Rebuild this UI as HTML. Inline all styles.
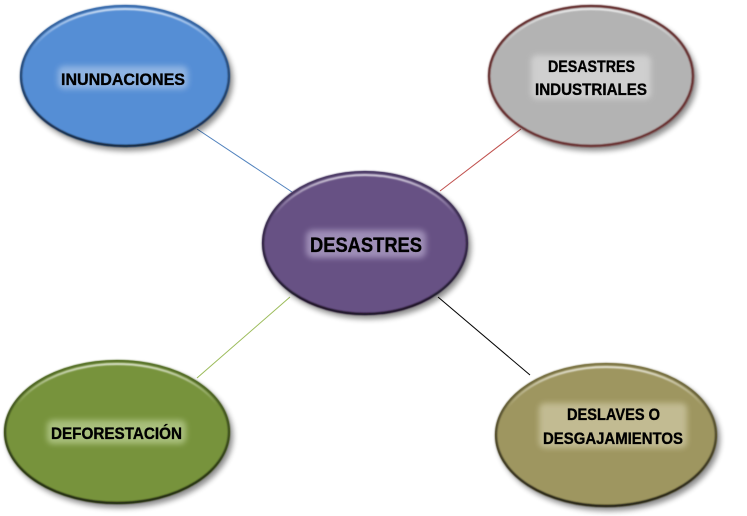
<!DOCTYPE html>
<html>
<head>
<meta charset="utf-8">
<style>
html,body{margin:0;padding:0;background:#fff;}
svg{display:block;}
text{font-family:"Liberation Sans",Arial,sans-serif;font-weight:bold;fill:#000;stroke:#000;stroke-width:0.35px;}
</style>
</head>
<body>
<svg width="747" height="516" viewBox="0 0 747 516" xmlns="http://www.w3.org/2000/svg">
<defs>
  <filter id="sh" x="-20%" y="-20%" width="140%" height="140%">
    <feGaussianBlur stdDeviation="3"/>
  </filter>
  <filter id="gl" x="-20%" y="-60%" width="140%" height="220%">
    <feGaussianBlur stdDeviation="3"/>
  </filter>
  <filter id="eb" x="-10%" y="-10%" width="120%" height="120%">
    <feGaussianBlur stdDeviation="0.8"/>
  </filter>
  <linearGradient id="hl" x1="0" y1="0" x2="0" y2="1">
    <stop offset="0" stop-color="#fff" stop-opacity="0.75"/>
    <stop offset="0.3" stop-color="#fff" stop-opacity="0"/>
  </linearGradient>
  <linearGradient id="dkB" x1="0" y1="0" x2="0" y2="1">
    <stop offset="0" stop-color="#3a6aa8"/><stop offset="1" stop-color="#0d1a2c"/>
  </linearGradient>
  <linearGradient id="dkP" x1="0" y1="0" x2="0" y2="1">
    <stop offset="0" stop-color="#4a3a63"/><stop offset="1" stop-color="#120c1a"/>
  </linearGradient>
  <linearGradient id="dkG" x1="0" y1="0" x2="0" y2="1">
    <stop offset="0" stop-color="#56702a"/><stop offset="1" stop-color="#151b08"/>
  </linearGradient>
  <linearGradient id="dkO" x1="0" y1="0" x2="0" y2="1">
    <stop offset="0" stop-color="#7a7345"/><stop offset="1" stop-color="#14120a"/>
  </linearGradient>
</defs>

<!-- connectors -->
<line x1="197" y1="129" x2="292" y2="192" stroke="#4F81BD" stroke-width="1"/>
<line x1="440" y1="191" x2="521" y2="129" stroke="#C0504D" stroke-width="1"/>
<line x1="197" y1="378" x2="290" y2="297" stroke="#9BBB59" stroke-width="1"/>
<line x1="438" y1="297" x2="530" y2="375" stroke="#000" stroke-width="1"/>

<!-- INUNDACIONES -->
<ellipse cx="128" cy="80" rx="105" ry="71" fill="#000" opacity="0.45" filter="url(#sh)"/>
<ellipse cx="125" cy="76" rx="105" ry="71" fill="#558ED5"/>
<ellipse cx="125" cy="76" rx="104" ry="70" fill="none" stroke="url(#dkB)" stroke-width="2.2" filter="url(#eb)"/>
<ellipse cx="125" cy="76" rx="101" ry="67" fill="none" stroke="url(#hl)" stroke-width="2" filter="url(#eb)"/>
<rect x="58" y="66" width="130" height="23" rx="6" fill="#9DBDE6" opacity="0.8" filter="url(#gl)"/>
<text x="61" y="85" font-size="16.5" textLength="124" lengthAdjust="spacingAndGlyphs">INUNDACIONES</text>

<!-- DESASTRES INDUSTRIALES -->
<ellipse cx="594" cy="80" rx="103" ry="71" fill="#000" opacity="0.45" filter="url(#sh)"/>
<ellipse cx="591" cy="76" rx="103" ry="71" fill="#B3B3B3"/>
<ellipse cx="591" cy="76" rx="102" ry="70" fill="none" stroke="#5e2020" stroke-width="2.2" filter="url(#eb)"/>
<ellipse cx="591" cy="76" rx="99" ry="67" fill="none" stroke="url(#hl)" stroke-width="2" filter="url(#eb)"/>
<rect x="531" y="55" width="120" height="44" rx="6" fill="#D6D6D6" opacity="0.8" filter="url(#gl)"/>
<text x="548" y="72" font-size="16.5" textLength="87" lengthAdjust="spacingAndGlyphs">DESASTRES</text>
<text x="535" y="95" font-size="16.5" textLength="112" lengthAdjust="spacingAndGlyphs">INDUSTRIALES</text>

<!-- DESASTRES center -->
<ellipse cx="368" cy="247" rx="103" ry="72" fill="#000" opacity="0.45" filter="url(#sh)"/>
<ellipse cx="365" cy="243" rx="103" ry="72" fill="#675184"/>
<ellipse cx="365" cy="243" rx="102" ry="71" fill="none" stroke="url(#dkP)" stroke-width="2.2" filter="url(#eb)"/>
<ellipse cx="365" cy="243" rx="99" ry="68" fill="none" stroke="url(#hl)" stroke-width="2" filter="url(#eb)"/>
<rect x="306" y="230" width="120" height="28" rx="7" fill="#A899C0" opacity="0.85" filter="url(#gl)"/>
<text x="310" y="252" font-size="21" textLength="112" lengthAdjust="spacingAndGlyphs">DESASTRES</text>

<!-- DEFORESTACIÓN -->
<ellipse cx="120" cy="436" rx="113" ry="72" fill="#000" opacity="0.45" filter="url(#sh)"/>
<ellipse cx="117" cy="432" rx="113" ry="72" fill="#77933C"/>
<ellipse cx="117" cy="432" rx="112" ry="71" fill="none" stroke="url(#dkG)" stroke-width="2.2" filter="url(#eb)"/>
<ellipse cx="117" cy="432" rx="109" ry="68" fill="none" stroke="url(#hl)" stroke-width="2" filter="url(#eb)"/>
<rect x="47" y="420" width="139" height="24" rx="6" fill="#B5CA8C" opacity="0.8" filter="url(#gl)"/>
<text x="51" y="439" font-size="16.5" textLength="131" lengthAdjust="spacingAndGlyphs">DEFORESTACIÓN</text>

<!-- DESLAVES O DESGAJAMIENTOS -->
<ellipse cx="609" cy="439" rx="111" ry="72" fill="#000" opacity="0.45" filter="url(#sh)"/>
<ellipse cx="606" cy="435" rx="111" ry="72" fill="#9E9660"/>
<ellipse cx="606" cy="435" rx="110" ry="71" fill="none" stroke="url(#dkO)" stroke-width="2.2" filter="url(#eb)"/>
<ellipse cx="606" cy="435" rx="107" ry="68" fill="none" stroke="url(#hl)" stroke-width="2" filter="url(#eb)"/>
<rect x="539" y="403" width="148" height="45" rx="6" fill="#CBC59F" opacity="0.8" filter="url(#gl)"/>
<text x="567" y="420" font-size="16.5" textLength="93" lengthAdjust="spacingAndGlyphs">DESLAVES O</text>
<text x="543" y="444" font-size="16.5" textLength="140" lengthAdjust="spacingAndGlyphs">DESGAJAMIENTOS</text>
</svg>
</body>
</html>
